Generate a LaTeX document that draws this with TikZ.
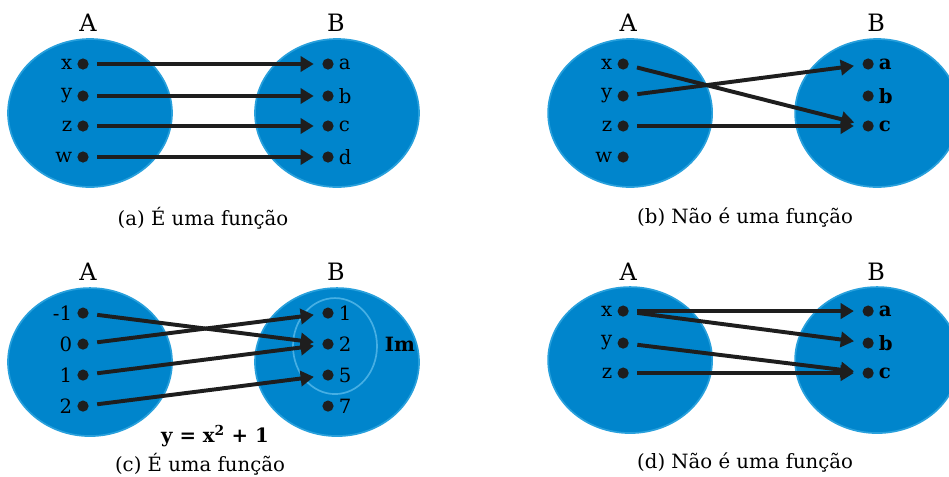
\documentclass[tikz,border=0pt]{standalone}
\usepackage{fontspec}
\setmainfont{DejaVu Serif}
\usetikzlibrary{arrows.meta}
\definecolor{setblue}{RGB}{0,133,204}
\definecolor{setedge}{RGB}{40,160,220}
\definecolor{imline}{RGB}{70,175,228}
\definecolor{ink}{RGB}{30,30,30}

\begin{document}
\begin{tikzpicture}[
  x=0.025cm, y=-0.025cm,
  font=\fontsize{14}{16}\selectfont,
  set/.style={fill=setblue, draw=setedge, line width=1.2pt},
  setname/.style={font=\fontsize{17}{19}\selectfont},
  dot/.style={circle, fill=ink, inner sep=0pt, minimum size=2.8mm, label distance=0pt},
  arr/.style={line width=2.8pt, draw=ink, -{Triangle[length=3.3mm,width=3.8mm]},
    shorten <=2.1mm, shorten >=2.1mm}
  ]
  \useasboundingbox (0,0) rectangle (949,476);

  % (a)
  \begin{scope}
    \draw[set] (90,113) ellipse [x radius=82, y radius=74];
    \draw[set] (337,113) ellipse [x radius=82, y radius=74];
    \node[setname] (A) at (88,23) {A};
    \node[setname] (B) at (336,23) {B};

    \node[dot, label=left:x] (x) at (83,64) {};
    \node[dot, label=left:y] (y) at (83,96) {};
    \node[dot, label=left:z] (z) at (83,126) {};
    \node[dot, label=left:w] (w) at (83,157) {};
    \node[dot, label=right:a] (a) at (328,64) {};
    \node[dot, label=right:b] (b) at (328,96) {};
    \node[dot, label=right:c] (c) at (328,126) {};
    \node[dot, label=right:d] (d) at (328,157) {};

    \draw[arr] (x) -- (a);
    \draw[arr] (y) -- (b);
    \draw[arr] (z) -- (c);
    \draw[arr] (w) -- (d);

    \node (cap) at (203,218) {(a) É uma função};
  \end{scope}

  % (b)
  \begin{scope}[xshift=13.5cm]
    \draw[set] (90,113) ellipse [x radius=82, y radius=74];
    \draw[set] (337,113) ellipse [x radius=82, y radius=74];
    \node[setname] (A) at (88,23) {A};
    \node[setname] (B) at (336,23) {B};

    \node[dot, label=left:x] (x) at (83,64) {};
    \node[dot, label=left:y] (y) at (83,96) {};
    \node[dot, label=left:z] (z) at (83,126) {};
    \node[dot, label=left:w] (w) at (83,157) {};
    \node[dot, label=right:\textbf{a}] (a) at (328,64) {};
    \node[dot, label=right:\textbf{b}] (b) at (328,96) {};
    \node[dot, label=right:\textbf{c}] (c) at (328,126) {};

    \draw[arr] (x) -- (c);
    \draw[arr] (y) -- (a);
    \draw[arr] (z) -- (c);

    \node (cap) at (205,218) {(b) Não é uma função};
  \end{scope}

  % (c)
  \begin{scope}[yshift=-6.2cm]
    \draw[set] (90,114) ellipse [x radius=82, y radius=74];
    \draw[set] (337,114) ellipse [x radius=82, y radius=74];
    \draw[imline, line width=1.2pt] (335,98) ellipse [x radius=42, y radius=48];
    \node[setname] (A) at (88,24) {A};
    \node[setname] (B) at (336,24) {B};

    \node[dot, label=left:-1] (m1) at (83,65) {};
    \node[dot, label=left:0] (n0) at (83,96) {};
    \node[dot, label=left:1] (n1) at (83,127) {};
    \node[dot, label=left:2] (n2) at (83,158) {};
    \node[dot, label=right:1] (b1) at (328,65) {};
    \node[dot, label=right:2] (b2) at (328,96) {};
    \node[dot, label=right:5] (b5) at (328,127) {};
    \node[dot, label=right:7] (b7) at (328,158) {};
    \node (im) at (400,96) {\textbf{Im}};

    \draw[arr] (m1) -- (b2);
    \draw[arr] (n0) -- (b1);
    \draw[arr] (n1) -- (b2);
    \draw[arr] (n2) -- (b5);

    \node (eq) at (215,188) {\textbf{y = x\textsuperscript{2} + 1}};
    \node (cap) at (200,216) {(c) É uma função};
  \end{scope}

  % (d)
  \begin{scope}[xshift=13.5cm, yshift=-6.2cm]
    \draw[set] (90,112) ellipse [x radius=82, y radius=73];
    \draw[set] (337,112) ellipse [x radius=82, y radius=73];
    \node[setname] (A) at (88,24) {A};
    \node[setname] (B) at (336,24) {B};

    \node[dot, label=left:x] (x) at (83,63) {};
    \node[dot, label=left:y] (y) at (83,95) {};
    \node[dot, label=left:z] (z) at (83,125) {};
    \node[dot, label=right:\textbf{a}] (a) at (328,63) {};
    \node[dot, label=right:\textbf{b}] (b) at (328,95) {};
    \node[dot, label=right:\textbf{c}] (c) at (328,125) {};

    \draw[arr] (x) -- (a);
    \draw[arr] (x) -- (b);
    \draw[arr] (y) -- (c);
    \draw[arr] (z) -- (c);

    \node (cap) at (205,214) {(d) Não é uma função};
  \end{scope}
\end{tikzpicture}
\end{document}
